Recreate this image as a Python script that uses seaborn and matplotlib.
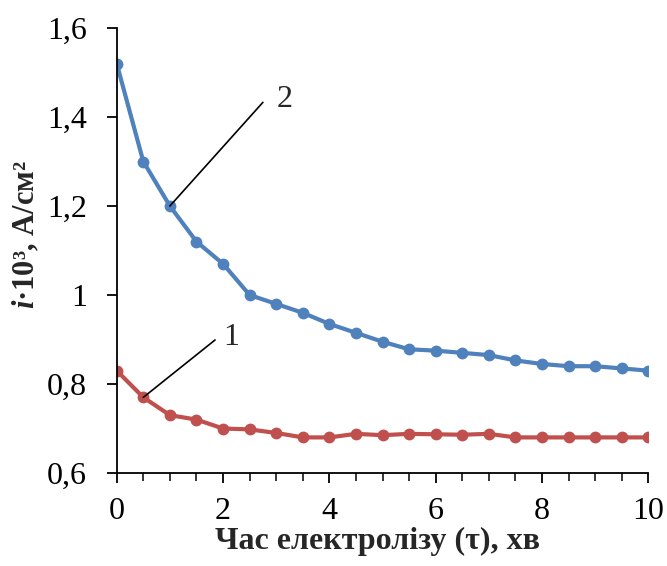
import numpy as np
import pandas as pd
import seaborn as sns
import matplotlib.pyplot as plt
from matplotlib.ticker import MultipleLocator, FuncFormatter

# electrolysis time, min
time_min = [0, 0.5, 1, 1.5, 2, 2.5, 3, 3.5, 4, 4.5, 5,
            5.5, 6, 6.5, 7, 7.5, 8, 8.5, 9, 9.5, 10]
# current density i*10^3, A/cm2
curve_1 = [0.83, 0.77, 0.73, 0.72, 0.70, 0.698, 0.69, 0.68, 0.68, 0.688, 0.685,
           0.688, 0.687, 0.686, 0.688, 0.68, 0.68, 0.68, 0.68, 0.68, 0.68]
curve_2 = [1.52, 1.30, 1.20, 1.12, 1.07, 1.00, 0.98, 0.96, 0.935, 0.915, 0.895,
           0.878, 0.875, 0.87, 0.865, 0.853, 0.845, 0.84, 0.84, 0.835, 0.83]

df = pd.DataFrame({
    "t": time_min * 2,
    "i": curve_1 + curve_2,
    "curve": ["1"] * len(time_min) + ["2"] * len(time_min),
})

sns.set_style("ticks")
plt.rcParams["font.family"] = ["Liberation Serif", "DejaVu Serif"]
plt.rcParams["mathtext.fontset"] = "custom"
plt.rcParams["mathtext.rm"] = "Liberation Serif"
plt.rcParams["mathtext.it"] = "Liberation Serif:italic"
plt.rcParams["mathtext.bf"] = "Liberation Serif:bold"
plt.rcParams["mathtext.bfit"] = "Liberation Serif:italic:bold"

fig = plt.figure(figsize=(6.67, 5.66), dpi=100)
ax = fig.add_axes([0.175, 0.1643, 0.797, 0.7862])

sns.lineplot(data=df, x="t", y="i", hue="curve",
             palette={"1": "#C0504D", "2": "#4F81BD"},
             marker="o", markersize=8.5, markeredgewidth=0,
             linewidth=3, legend=False, ax=ax)

ax.set_xlim(0, 10)
ax.set_ylim(0.6, 1.6)
ax.xaxis.set_major_locator(MultipleLocator(2))
ax.xaxis.set_minor_locator(MultipleLocator(0.5))
ax.yaxis.set_major_locator(MultipleLocator(0.2))
ax.yaxis.set_major_formatter(FuncFormatter(lambda v, p: f"{v:g}".replace(".", ",")))
ax.tick_params(axis="both", which="major", direction="out", length=7.5, width=1.3,
               labelsize=23, colors="black")
ax.tick_params(axis="x", which="major", pad=10)
ax.tick_params(axis="y", which="major", pad=14)
ax.tick_params(axis="x", which="minor", direction="out", length=6, width=1.3)
for s in ["left", "bottom"]:
    ax.spines[s].set_linewidth(1.3)
    ax.spines[s].set_color("black")
sns.despine(ax=ax)

ax.set_xlabel("Час електролізу (τ), хв", fontsize=23, fontweight="bold")
ax.set_ylabel(r"$\mathbfit{i}$·10³, А/см²", fontsize=22, fontweight="bold")
ax.xaxis.set_label_coords(0.49, -0.122)
ax.yaxis.set_label_coords(-0.142, 0.535)

# curve labels
ax.plot([1.0, 2.75], [1.2, 1.433], color="black", linewidth=1.2)
ax.text(3.0, 1.44, "2", fontsize=23, ha="left", va="center")
ax.plot([0.5, 1.85], [0.77, 0.899], color="black", linewidth=1.2)
ax.text(2.0, 0.905, "1", fontsize=23, ha="left", va="center")

fig.savefig("out.png", dpi=100)
